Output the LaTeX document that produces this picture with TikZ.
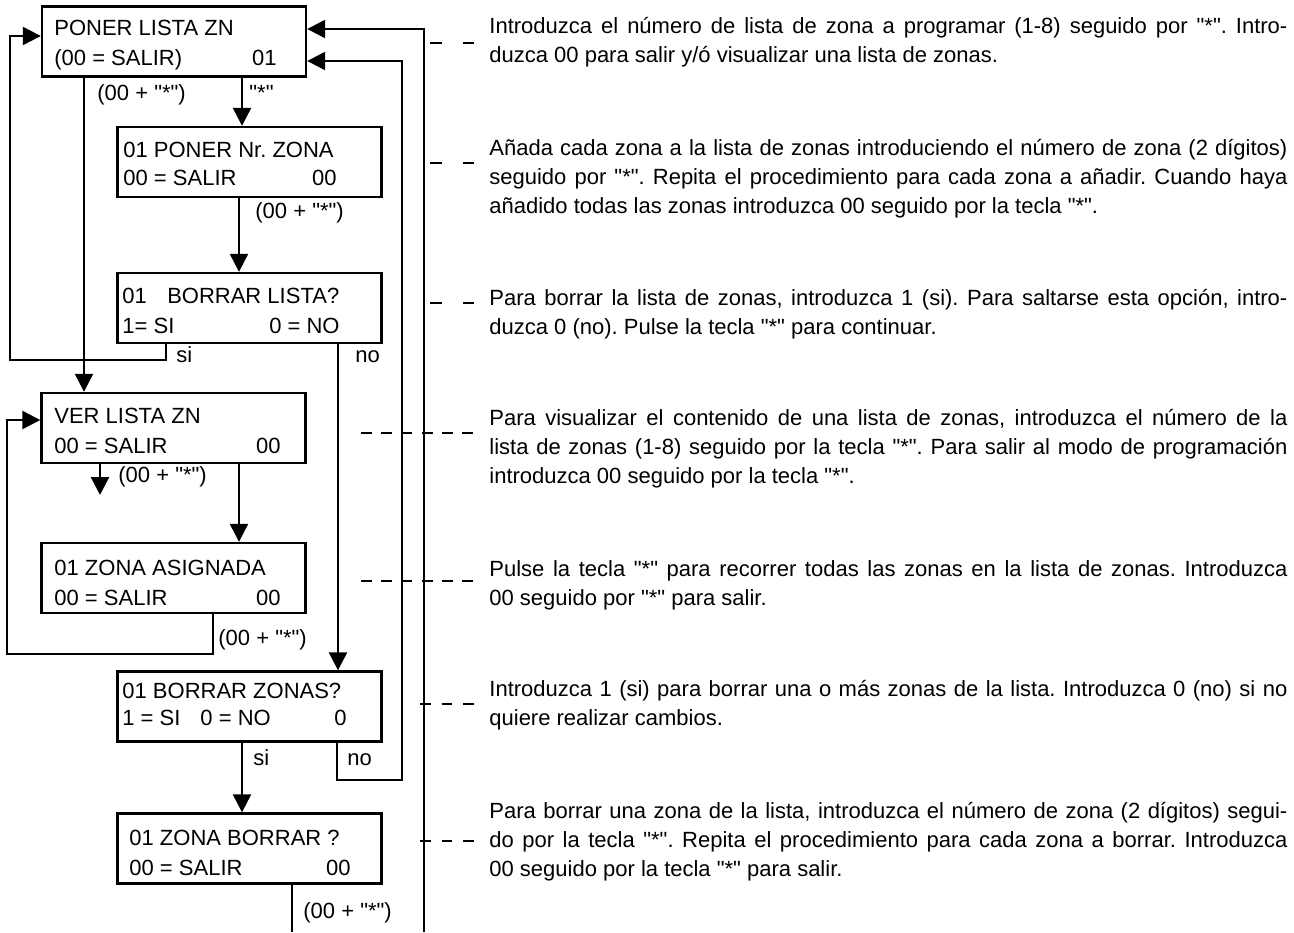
\documentclass[tikz,border=0pt]{standalone}
\usepackage{fontspec}
\setmainfont{Liberation Sans}[Ligatures=TeXOff]
\usetikzlibrary{arrows.meta}
\tolerance=10000\relax
\hbadness=10000\relax
\frenchspacing
\begin{document}
\begin{tikzpicture}[x=0.5pt,y=-0.5pt,
  box/.style={draw,line width=1.2pt,minimum width=132pt,minimum height=35pt,inner sep=0pt},
  txt/.style={inner sep=0pt,anchor=base west,font=\fontsize{11pt}{14.6pt}\selectfont\frenchspacing},
  rtxt/.style={txt,anchor=base east},
  desc/.style={txt,text width=399pt,align=justify},
  wire/.style={line width=1.2pt},
  arr/.style={wire,-{Triangle[length=9pt,width=9pt]}},
  lead/.style={line width=1pt,dash pattern=on 6pt off 10.5pt},
  leadlong/.style={line width=1pt,dash pattern=on 5.5pt off 4.6pt},
  leadmid/.style={line width=1pt,dash pattern=on 5.3pt off 5.5pt}]
\useasboundingbox (0,0) rectangle (1294,932);

% boxes
\node[box] (b1) at (174,41.5) {};
\node[box] (b2) at (249.5,162) {};
\node[box] (b3) at (249.5,308) {};
\node[box] (b4) at (173.5,428) {};
\node[box] (b5) at (173.5,578) {};
\node[box] (b6) at (249.5,706.5) {};
\node[box] (b7) at (249.5,848.5) {};

% box texts
\node[txt] (t1a) at (54,35) {PONER LISTA ZN};
\node[txt] (t1b) at (54,65) {(00 = SALIR)};
\node[rtxt] (t1c) at (277,65) {01};
\node[txt] (t2a) at (123,157) {01 PONER Nr. ZONA};
\node[txt] (t2b) at (123,185) {00 = SALIR};
\node[rtxt] (t2c) at (337,185) {00};
\node[txt] (t3a) at (122,303) {01\hspace{10.2pt}BORRAR LISTA?};
\node[txt] (t3b) at (122,333) {1= SI};
\node[rtxt] (t3c) at (340,333) {0 = NO};
\node[txt] (t4a) at (54,423) {VER LISTA ZN};
\node[txt] (t4b) at (54,453) {00 = SALIR};
\node[rtxt] (t4c) at (281,453) {00};
\node[txt] (t5a) at (54,575) {01 ZONA ASIGNADA};
\node[txt] (t5b) at (54,605) {00 = SALIR};
\node[rtxt] (t5c) at (281,605) {00};
\node[txt] (t6a) at (122,698) {01 BORRAR ZONAS?};
\node[txt] (t6b) at (122,725) {1 = SI\hspace{10pt}0 = NO};
\node[rtxt] (t6c) at (347,725) {0};
\node[txt] (t7a) at (129,845) {01 ZONA BORRAR ?};
\node[txt] (t7b) at (129,875) {00 = SALIR};
\node[rtxt] (t7c) at (351,875) {00};

% column / row coordinates
\coordinate (cA) at (84,0);
\coordinate (cB) at (242,0);
\coordinate (cC) at (239,0);
\coordinate (cD) at (166,0);
\coordinate (cE) at (338,0);
\coordinate (cI) at (100,0);
\coordinate (cH) at (213,0);
\coordinate (cJ) at (337,0);
\coordinate (cM) at (292,0);
\coordinate (rA) at (0,36);
\coordinate (rC) at (0,420);
\coordinate (rF) at (0,61);
\coordinate (rG) at (0,29);
\coordinate (p1) at (10,360);
\coordinate (p2) at (7,654);
\coordinate (p3) at (402,780);
\coordinate (p4) at (424,932);
\coordinate (p5) at (100,495);
\coordinate (p6) at (292,932);

% connectors
\draw[arr] (b1.south -| cB) -- (b2.north -| cB);
\draw[arr] (b1.south -| cA) -- (b4.north -| cA);
\draw[arr] (b2.south -| cC) -- (b3.north -| cC);
\draw[arr] (b3.south -| cD) -- (cD |- p1) -- (p1) -- (p1 |- rA) -- (b1.west |- rA);
\draw[arr] (b3.south -| cE) -- (b6.north -| cE);
\draw[arr] (b4.south -| cI) -- (p5);
\draw[arr] (b4.south -| cC) -- (b5.north -| cC);
\draw[arr] (b5.south -| cH) -- (cH |- p2) -- (p2) -- (p2 |- rC) -- (b4.west |- rC);
\draw[arr] (b6.south -| cB) -- (b7.north -| cB);
\draw[arr] (b6.south -| cJ) -- (cJ |- p3) -- (p3) -- (p3 |- rF) -- (b1.east |- rF);
\draw[wire] (b7.south -| cM) -- (p6);
\draw[arr] (p4) -- (p4 |- rG) -- (b1.east |- rG);

% connector labels
\node[txt] (l1) at (249,100) {"*"};
\node[txt] (l2) at (97,100) {(00 + "*")};
\node[txt] (l3) at (255,218) {(00 + "*")};
\node[txt] (l4) at (176,362) {si};
\node[txt] (l5) at (355,362) {no};
\node[txt] (l6) at (118,482) {(00 + "*")};
\node[txt] (l7) at (218,645) {(00 + "*")};
\node[txt] (l8) at (253,765) {si};
\node[txt] (l9) at (347,765) {no};
\node[txt] (l10) at (303,918) {(00 + "*")};

% descriptions
\node[desc] (d1) at (489,33) {Introduzca el número de lista de zona a programar (1-8) seguido por "*". Intro-\linebreak duzca 00 para salir y/ó visualizar una lista de zonas.};
\node[desc] (d2) at (489,155) {Añada cada zona a la lista de zonas introduciendo el número de zona (2 dígitos)\linebreak seguido por "*". Repita el procedimiento para cada zona a añadir. Cuando haya\linebreak añadido todas las zonas introduzca 00 seguido por la tecla "*".};
\node[desc] (d3) at (489,305) {Para borrar la lista de zonas, introduzca 1 (si). Para saltarse esta opción, intro-\linebreak duzca 0 (no). Pulse la tecla "*" para continuar.};
\node[desc] (d4) at (489,425) {Para visualizar el contenido de una lista de zonas, introduzca el número de la\linebreak lista de zonas (1-8) seguido por la tecla "*". Para salir al modo de programación\linebreak introduzca 00 seguido por la tecla "*".};
\node[desc] (d5) at (489,576) {Pulse la tecla "*" para recorrer todas las zonas en la lista de zonas. Introduzca\linebreak 00 seguido por "*" para salir.};
\node[desc] (d6) at (489,696) {Introduzca 1 (si) para borrar una o más zonas de la lista. Introduzca 0 (no) si no\linebreak quiere realizar cambios.};
\node[desc] (d7) at (489,818) {Para borrar una zona de la lista, introduzca el número de zona (2 dígitos) segui-\linebreak do por la tecla "*". Repita el procedimiento para cada zona a borrar. Introduzca\linebreak 00 seguido por la tecla "*" para salir.};

% leaders
\coordinate (s1) at (430,43);  \coordinate (e1) at (474,43);
\coordinate (s2) at (430,163); \coordinate (e2) at (474,163);
\coordinate (s3) at (430,303); \coordinate (e3) at (474,303);
\coordinate (s4) at (361,433); \coordinate (e4) at (474,433);
\coordinate (s5) at (361,581); \coordinate (e5) at (474,581);
\coordinate (s6) at (420,704); \coordinate (e6) at (474,704);
\coordinate (s7) at (420,841); \coordinate (e7) at (474,841);
\draw[lead] (s1) -- (e1);
\draw[lead] (s2) -- (e2);
\draw[lead] (s3) -- (e3);
\draw[leadlong] (s4) -- (e4);
\draw[leadlong] (s5) -- (e5);
\draw[leadmid] (s6) -- (e6);
\draw[leadmid] (s7) -- (e7);
\end{tikzpicture}
\end{document}
